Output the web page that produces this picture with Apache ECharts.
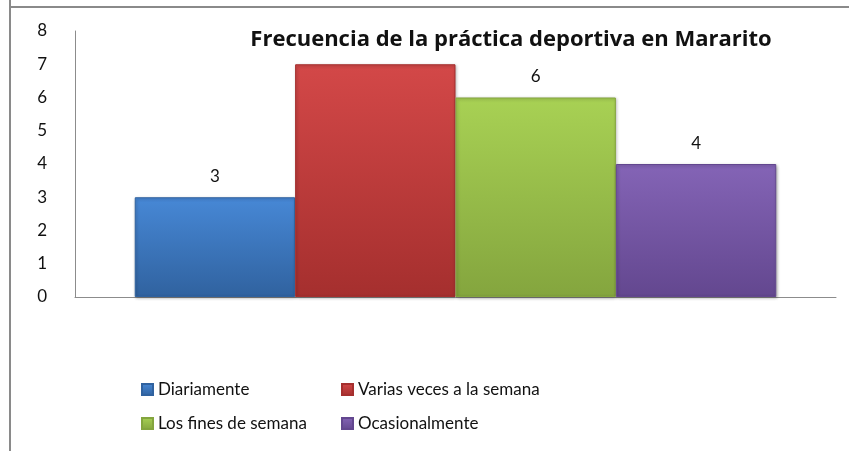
<!DOCTYPE html>
<html>
<head>
<meta charset="utf-8">
<script src="https://cdn.jsdelivr.net/npm/echarts@6/dist/echarts.min.js"></script>
<style>
  html, body { margin: 0; padding: 0; background: #fff; }
  #chart { width: 849px; height: 451px; }
</style>
</head>
<body>
<div id="chart"></div>
<script>
// datos
var categorias = ['Frecuencia'];
var series = ['Diariamente', 'Varias veces a la semana', 'Los fines de semana', 'Ocasionalmente'];
var valores = [3, 7, 6, 4];
var colores = [
  ['#4788d6', '#30629f'], // azul
  ['#d34848', '#a52f2e'], // rojo
  ['#a8d154', '#84a53e'], // verde
  ['#8464b6', '#63478f']  // morado
];

var FONT = 'Lato, "Open Sans", sans-serif';

var chart = echarts.init(document.getElementById('chart'));

function grad(c) {
  return new echarts.graphic.LinearGradient(0, 0, 0, 1, [
    { offset: 0, color: c[0] },
    { offset: 1, color: c[1] }
  ]);
}

var legendText = { fontFamily: FONT, fontSize: 17, color: '#111' };

chart.setOption({
  backgroundColor: '#fff',
  animation: false,
  title: {
    text: 'Frecuencia de la práctica deportiva en Mararito',
    left: 511,
    textAlign: 'center',
    top: 29,
    padding: 0,
    backgroundColor: '#fff',
    textStyle: {
      fontFamily: '"Open Sans", sans-serif',
      fontWeight: 'bold',
      fontSize: 22,
      color: '#111'
    }
  },
  legend: [
    {
      data: [series[0], series[2]],
      orient: 'vertical',
      left: 141,
      top: 381,
      padding: 0,
      itemWidth: 11,
      itemHeight: 11,
      itemGap: 17,
      icon: 'rect',
      textStyle: legendText
    },
    {
      data: [series[1], series[3]],
      orient: 'vertical',
      left: 341,
      top: 381,
      padding: 0,
      itemWidth: 11,
      itemHeight: 11,
      itemGap: 17,
      icon: 'rect',
      textStyle: legendText
    }
  ],
  grid: { left: 75, right: 13, top: 31, bottom: 154 },
  xAxis: {
    type: 'category',
    data: categorias,
    axisLine: { lineStyle: { color: '#8c8c8c', width: 1 } },
    axisTick: { show: false },
    axisLabel: { show: false }
  },
  yAxis: {
    type: 'value',
    min: 0,
    max: 8,
    interval: 1,
    splitLine: { show: false },
    axisLine: { show: true, lineStyle: { color: '#8c8c8c', width: 1 } },
    axisTick: { show: false },
    axisLabel: {
      margin: 28,
      fontFamily: FONT,
      fontSize: 17,
      color: '#111'
    }
  },
  graphic: [
    { type: 'line', shape: { x1: 10, y1: 0, x2: 10, y2: 451 }, style: { stroke: '#8a8a8a', lineWidth: 2 } },
    { type: 'line', shape: { x1: 10, y1: 7, x2: 849, y2: 7 }, style: { stroke: '#8a8a8a', lineWidth: 2 } }
  ],
  series: series.map(function (name, i) {
    return {
      name: name,
      type: 'bar',
      data: [valores[i]],
      barGap: '0%',
      barCategoryGap: '15.7%',
      itemStyle: {
        color: grad(colores[i]),
        borderColor: colores[i][1],
        borderWidth: 1,
        shadowColor: 'rgba(0,0,0,0.3)',
        shadowBlur: 3,
        shadowOffsetX: 1,
        shadowOffsetY: 1
      },
      label: {
        show: true,
        position: 'top',
        distance: 12,
        fontFamily: FONT,
        fontSize: 17,
        color: '#111'
      }
    };
  })
});
</script>
</body>
</html>
